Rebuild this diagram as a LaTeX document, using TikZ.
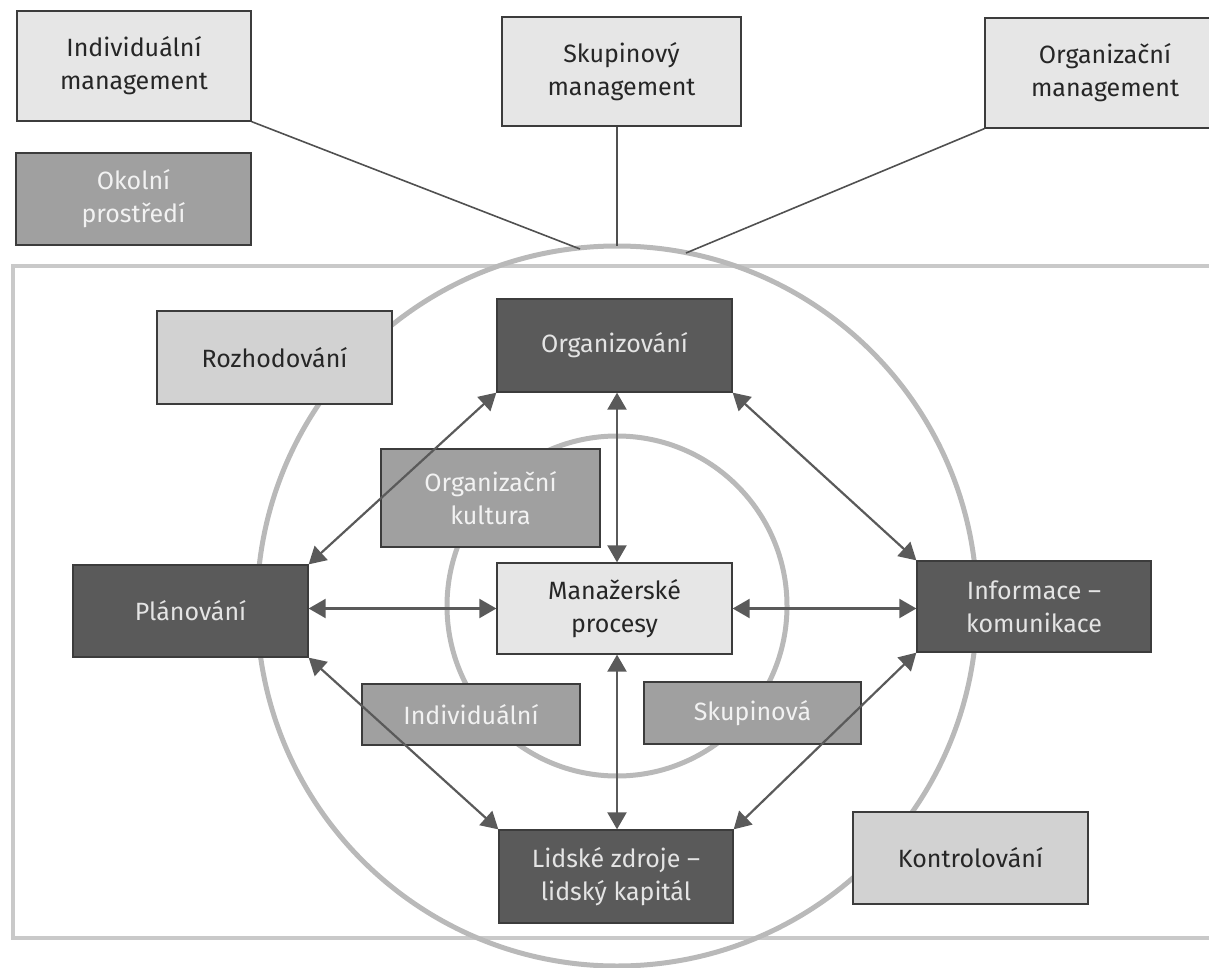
\documentclass[tikz,border=0pt]{standalone}
\usepackage{fontspec}
\setmainfont{Fira Sans}
\usetikzlibrary{arrows.meta}
\definecolor{lightfill}{HTML}{E6E6E6}
\definecolor{paler}{HTML}{D2D2D2}
\definecolor{midfill}{HTML}{A0A0A0}
\definecolor{darkfill}{HTML}{5A5A5A}
\definecolor{boxline}{HTML}{3C3C3C}
\definecolor{arrowcol}{HTML}{5A5A5A}
\definecolor{ringcol}{HTML}{B9B9B9}
\definecolor{framecol}{HTML}{C9C9C9}
\definecolor{lighttext}{HTML}{E4E4E4}
\definecolor{midtext}{HTML}{F2F2F2}
\tikzset{
  basebox/.style={draw=boxline, line width=1.3pt, inner sep=0pt, align=center,
    font=\fontsize{25}{33}\selectfont},
  lightbox/.style={basebox, fill=lightfill, text=black!85},
  palebox/.style={basebox, fill=paler, text=black!85},
  midbox/.style={basebox, fill=midfill, text=midtext},
  darkbox/.style={basebox, fill=darkfill, text=lighttext},
  twoway/.style={draw=arrowcol, line width=2.2pt,
    {Triangle[length=17pt,width=19pt]}-{Triangle[length=17pt,width=19pt]}},
  link/.style={draw=boxline!90, line width=1.6pt},
  ring/.style={draw=ringcol, line width=5pt},
}
\begin{document}
\begin{tikzpicture}[x=1pt,y=-1pt]
\useasboundingbox (0,0) rectangle (1209,968);
% frame and rings
\draw[draw=framecol, line width=4pt] (13,266) rectangle (1250,938);
\coordinate (C) at (617,606);
\draw[ring] (C) circle[radius=360pt];
\draw[ring] (C) circle[radius=170pt];
\coordinate (t1) at (580,249);
\coordinate (t2) at (617,246);
\coordinate (t3) at (686,253);
% top boxes
\node[lightbox, minimum width=234pt, minimum height=110pt] (im) at (134,66) {Individuální\\management};
\node[midbox, minimum width=235pt, minimum height=92pt] (op) at (133.5,199) {Okolní\\prostředí};
\node[lightbox, minimum width=239pt, minimum height=109pt] (sm) at (621.5,71.5) {Skupinový\\management};
\node[lightbox, minimum width=240pt, minimum height=110pt] (om) at (1105,73) {Organizační\\management};
% inner boxes
\node[palebox, minimum width=235pt, minimum height=93pt] (roz) at (274.5,357.5) {Rozhodování};
\node[darkbox, minimum width=235pt, minimum height=93pt] (org) at (614.5,345.5) {Organizování};
\node[midbox, minimum width=219pt, minimum height=98pt] (ok) at (490.5,498) {Organizační\\kultura};
\node[darkbox, minimum width=235pt, minimum height=92pt] (plan) at (190.5,611) {Plánování};
\node[lightbox, minimum width=235pt, minimum height=91pt] (man) at (614.5,608.5) {Manažerské\\procesy};
\node[darkbox, minimum width=234pt, minimum height=91pt] (inf) at (1034,606.5) {Informace –\\komunikace};
\node[midbox, minimum width=218pt, minimum height=61pt] (ind) at (471,714.5) {Individuální};
\node[midbox, minimum width=217pt, minimum height=62pt] (sk) at (752.5,713) {Skupinová};
\node[darkbox, minimum width=234pt, minimum height=93pt] (lz) at (616,876.5) {Lidské zdroje –\\lidský kapitál};
\node[palebox, minimum width=235pt, minimum height=92pt] (kon) at (970.5,858) {Kontrolování};
% links to ring
\draw[link] (im.south east) -- (t1);
\draw[link] (sm.south -| t2) -- (t2);
\draw[link] (om.south west) -- (t3);
% arrows
\draw[twoway] (org.south -| C) -- (man.north -| C);
\draw[twoway] (man.south -| C) -- (lz.north -| C);
\draw[twoway] (plan.east |- man.west) -- (man.west);
\draw[twoway] (man.east) -- (inf.west |- man.east);
\draw[twoway] (plan.north east) -- (org.south west);
\draw[twoway] (org.south east) -- (inf.north west);
\draw[twoway] (plan.south east) -- (lz.north west);
\draw[twoway] (inf.south west) -- (lz.north east);
\end{tikzpicture}
\end{document}
